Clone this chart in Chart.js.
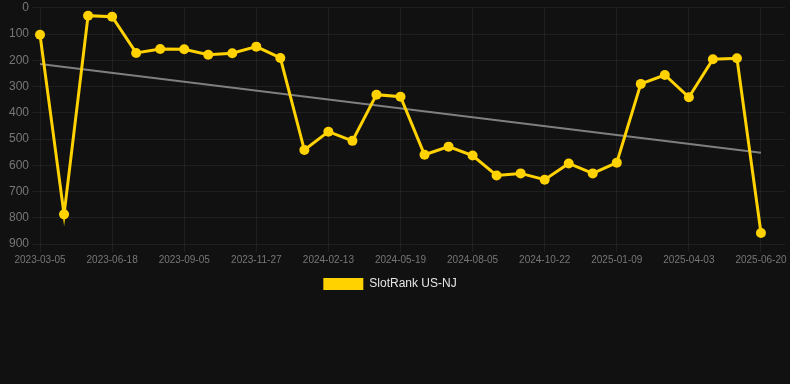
<!DOCTYPE html>
<html>
<head>
<meta charset="utf-8">
<script src="https://cdn.jsdelivr.net/npm/chart.js@4"></script>
<style>
  html, body { margin: 0; padding: 0; background: #111111; }
  #wrap { width: 790px; height: 300px; position: relative; }
</style>
</head>
<body>
<div id="wrap"><canvas id="rankChart"></canvas></div>
<script>
// dates of each ranking snapshot (every 3rd shows on the axis)
const dates = [
  '2023-03-05', '2023-04-09', '2023-05-14',
  '2023-06-18', '2023-07-14', '2023-08-10',
  '2023-09-05', '2023-10-02', '2023-10-30',
  '2023-11-27', '2023-12-23', '2024-01-18',
  '2024-02-13', '2024-03-16', '2024-04-17',
  '2024-05-19', '2024-06-14', '2024-07-10',
  '2024-08-05', '2024-08-31', '2024-09-26',
  '2024-10-22', '2024-11-17', '2024-12-13',
  '2025-01-09', '2025-02-06', '2025-03-06',
  '2025-04-03', '2025-04-29', '2025-05-25',
  '2025-06-20', ''
];

// SlotRank US-NJ position
const ranks = [
  103, 787, 30, 34, 172, 157, 158, 179, 173, 148,
  191, 542, 472, 507, 331, 339, 560, 529, 563, 639,
  631, 655, 593, 631, 590, 290, 256, 341, 196, 192,
  858
];

// trend line end points
const trendStart = 214;
const trendEnd = 552;

const yTicks = [0, 100, 200, 300, 400, 500, 600, 700, 800, 900];

const gold = '#FFD200';

// nudge the legend a little to the left, like the original
const legendNudge = {
  id: 'legendNudge',
  afterLayout(c) {
    if (c.legend) {
      c.legend.left -= 8;
      c.legend.right -= 8;
    }
  }
};

const ctx = document.getElementById('rankChart').getContext('2d');
const chart = new Chart(ctx, {
  type: 'line',
  data: {
    labels: dates,
    datasets: [
      {
        label: 'SlotRank US-NJ',
        data: ranks,
        borderColor: gold,
        backgroundColor: gold,
        borderWidth: 3,
        pointRadius: 5,
        pointBackgroundColor: gold,
        pointBorderColor: gold,
        pointBorderWidth: 0,
        tension: 0,
        fill: false
      },
      {
        label: 'trend',
        data: [{ x: dates[0], y: trendStart }, { x: dates[30], y: trendEnd }],
        borderColor: 'rgba(140,140,140,0.9)',
        borderWidth: 2,
        pointRadius: 0,
        fill: false
      }
    ]
  },
  plugins: [legendNudge],
  options: {
    responsive: true,
    maintainAspectRatio: false,
    animation: false,
    layout: { padding: { left: 6 } },
    plugins: {
      tooltip: { enabled: false },
      legend: {
        position: 'bottom',
        labels: {
          color: '#e6e6e6',
          font: { size: 12 },
          boxWidth: 40,
          boxHeight: 12,
          filter: item => item.text !== 'trend',
          generateLabels: c => {
            const items = Chart.defaults.plugins.legend.labels.generateLabels(c);
            items.forEach(it => { it.lineWidth = 0; });
            return items;
          }
        }
      }
    },
    scales: {
      x: {
        grid: { color: 'rgba(255,255,255,0.06)' },
        border: { display: false },
        ticks: {
          color: '#777777',
          font: { size: 10 },
          padding: 2,
          maxRotation: 0,
          autoSkip: true
        }
      },
      y: {
        reverse: true,
        min: 0,
        max: 900,
        grid: { color: 'rgba(255,255,255,0.06)' },
        border: { display: false },
        afterBuildTicks: axis => {
          axis.ticks = yTicks.map(v => ({ value: v }));
        },
        ticks: {
          color: '#777777',
          font: { size: 12, lineHeight: 0.8 }
        }
      }
    }
  }
});
</script>
</body>
</html>
